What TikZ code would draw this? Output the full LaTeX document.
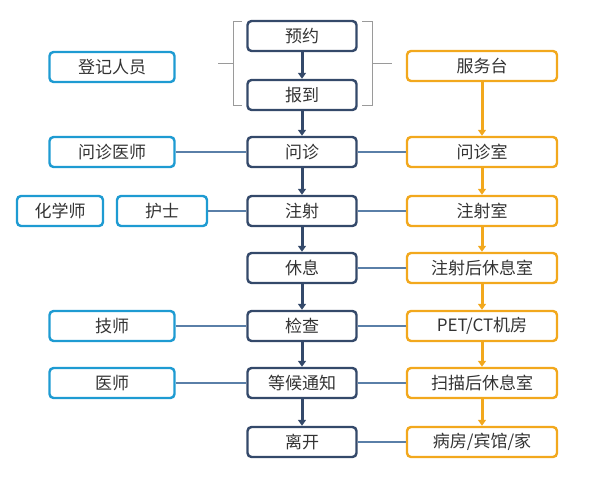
\documentclass[tikz,border=0pt]{standalone}
\usepackage{fontspec}
\setmainfont{Noto Sans CJK SC}
\usetikzlibrary{arrows.meta,positioning}
\definecolor{colorStep}{HTML}{34496A}
\definecolor{colorStaff}{HTML}{1E9BD2}
\definecolor{colorRoom}{HTML}{F2A81D}
\definecolor{colorLink}{HTML}{5A7FA8}
\definecolor{colorBrace}{HTML}{9A9A9A}
\tikzset{
	stepbox/.style={draw=colorStep, line width=2.4pt, rounded corners=4pt, minimum width=109pt, minimum height=30pt, inner sep=0pt, font=\fontsize{17}{17}\selectfont, text=black!80},
	staffbox/.style={stepbox, draw=colorStaff, minimum width=125pt},
	roombox/.style={stepbox, draw=colorRoom, minimum width=150pt},
	stepflow/.style={-{Triangle[length=6pt,width=8pt]}, draw=colorStep, line width=3pt},
	roomflow/.style={-{Triangle[length=6pt,width=8pt]}, draw=colorRoom, line width=3pt},
	link/.style={draw=colorLink, line width=1.2pt},
	brace/.style={draw=colorBrace, line width=1pt}
}
\begin{document}
\begin{tikzpicture}[x=1pt,y=-1pt]
	\useasboundingbox (0,0) rectangle (600,484);
	% center column
	\node[stepbox] (yuyue) at (302,36) {预约};
	\node[stepbox] (baodao) at (302,95) {报到};
	\node[stepbox] (wenzhen) at (302,152) {问诊};
	\node[stepbox] (zhushe) at (302,211) {注射};
	\node[stepbox] (xiuxi) at (302,268) {休息};
	\node[stepbox] (jiancha) at (302,326) {检查};
	\node[stepbox] (denghou) at (302,383) {等候通知};
	\node[stepbox] (likai) at (302,442) {离开};
	\foreach \a/\b in {yuyue/baodao,baodao/wenzhen,wenzhen/zhushe,zhushe/xiuxi,xiuxi/jiancha,jiancha/denghou,denghou/likai}
		\draw[stepflow] (\a) -- (\b);
	% rooms
	\node[roombox] (fuwutai) at (482,66) {服务台};
	\node[roombox] (wenzhenshi) at (482,152) {问诊室};
	\node[roombox] (zhusheshi) at (482,211) {注射室};
	\node[roombox] (xiuxishi) at (482,268) {注射后休息室};
	\node[roombox] (jifang) at (482,326) {PET/CT机房};
	\node[roombox] (saomiao) at (482,383) {扫描后休息室};
	\node[roombox] (jia) at (482,442) {病房/宾馆/家};
	\foreach \a/\b in {fuwutai/wenzhenshi,wenzhenshi/zhusheshi,zhusheshi/xiuxishi,xiuxishi/jifang,jifang/saomiao,saomiao/jia}
		\draw[roomflow] (\a) -- (\b);
	% staff
	\node[staffbox] (dengji) at (112,67) {登记人员};
	\node[staffbox] (yishi) at (112,152) {问诊医师};
	\node[staffbox, minimum width=86pt] (huaxue) at (60,211) {化学师};
	\node[staffbox, minimum width=90pt] (hushi) at (162,211) {护士};
	\node[staffbox] (jishi) at (112,326) {技师};
	\node[staffbox] (yisheng) at (112,383) {医师};
	% links
	\foreach \a/\b in {yishi/wenzhen,hushi/zhushe,jishi/jiancha,yisheng/denghou,wenzhen/wenzhenshi,zhushe/zhusheshi,xiuxi/xiuxishi,jiancha/jifang,denghou/saomiao,likai/jia}
		\draw[link] (\a) -- (\b);
	% braces
	\draw[brace] (242,22) -- (233,22) -- (233,106) -- (242,106);
	\draw[brace] (233,64) -- (218,64);
	\draw[brace] (362,22) -- (372,22) -- (372,106) -- (362,106);
	\draw[brace] (372,64) -- (392,64);
\end{tikzpicture}
\end{document}
